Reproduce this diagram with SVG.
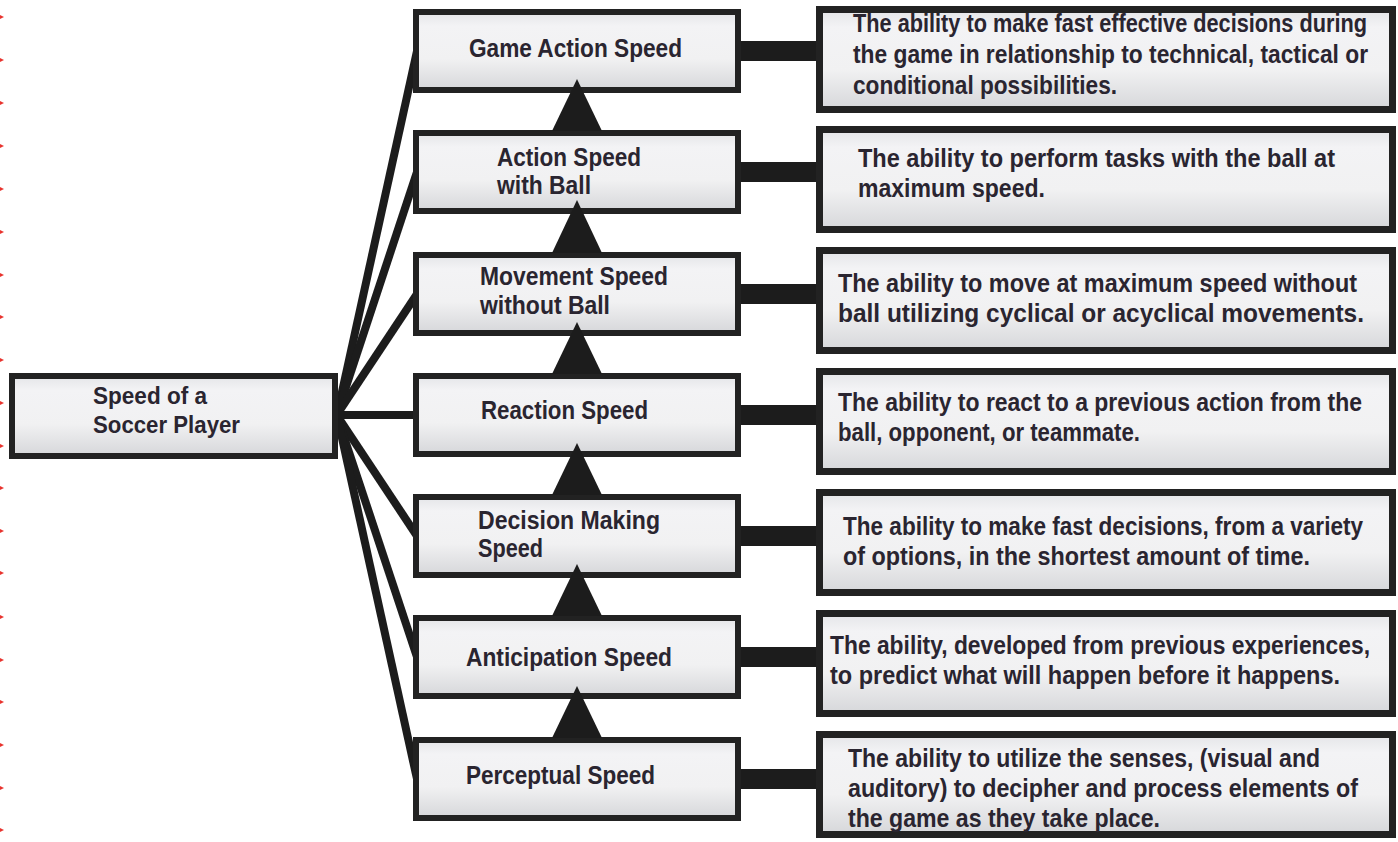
<svg xmlns="http://www.w3.org/2000/svg" width="1398" height="842" viewBox="0 0 1398 842">
<defs>
<linearGradient id="g" x1="0" y1="0" x2="0" y2="1">
<stop offset="0" stop-color="#e4e5e8"/>
<stop offset="0.18" stop-color="#f3f3f5"/>
<stop offset="0.6" stop-color="#f1f1f2"/>
<stop offset="1" stop-color="#d6d7da"/>
</linearGradient>
<style>
.box{fill:url(#g);stroke:#222;stroke-width:6}
.dbox{fill:url(#g);stroke:#222;stroke-width:7}
.t{font-family:"Liberation Sans",Arial,sans-serif;font-weight:bold;font-size:26px;fill:#2a2530}
.tl{font-family:"Liberation Sans",Arial,sans-serif;font-weight:bold;font-size:24px;fill:#2a2530}
.fan{stroke:#1c1c1c;stroke-width:8;fill:none}
.bar{fill:#1c1c1c}
.tri{fill:#1c1c1c}
.dot{fill:#e8342f}
</style>
</defs>
<rect width="1398" height="842" fill="#ffffff"/>
<g id="marks">
<polygon class="dot" points="0,15 4,17 0,19"/><polygon class="dot" points="0,58 4,60 0,62"/><polygon class="dot" points="0,101 4,103 0,105"/><polygon class="dot" points="0,144 4,146 0,148"/><polygon class="dot" points="0,187 4,189 0,191"/><polygon class="dot" points="0,230 4,232 0,234"/><polygon class="dot" points="0,273 4,275 0,277"/><polygon class="dot" points="0,315 4,317 0,319"/><polygon class="dot" points="0,358 4,360 0,362"/><polygon class="dot" points="0,401 4,403 0,405"/><polygon class="dot" points="0,444 4,446 0,448"/><polygon class="dot" points="0,486 4,488 0,490"/><polygon class="dot" points="0,529 4,531 0,533"/><polygon class="dot" points="0,571 4,573 0,575"/><polygon class="dot" points="0,615 4,617 0,619"/><polygon class="dot" points="0,658 4,660 0,662"/><polygon class="dot" points="0,700 4,702 0,704"/><polygon class="dot" points="0,743 4,745 0,747"/><polygon class="dot" points="0,786 4,788 0,790"/><polygon class="dot" points="0,828 4,830 0,832"/>
</g>
<g id="connectors">
<line class="fan" x1="338" y1="410" x2="417" y2="51"/>
<line class="fan" x1="338" y1="411" x2="417" y2="172"/>
<line class="fan" x1="338" y1="413" x2="417" y2="294"/>
<line class="fan" x1="338" y1="415" x2="417" y2="415"/>
<line class="fan" x1="338" y1="417" x2="417" y2="536"/>
<line class="fan" x1="338" y1="419" x2="417" y2="657"/>
<line class="fan" x1="338" y1="420" x2="417" y2="779"/>
<rect class="bar" x="740" y="41" width="78" height="20"/>
<rect class="bar" x="740" y="162" width="78" height="20"/>
<rect class="bar" x="740" y="284" width="78" height="20"/>
<rect class="bar" x="740" y="405" width="78" height="20"/>
<rect class="bar" x="740" y="526" width="78" height="20"/>
<rect class="bar" x="740" y="647" width="78" height="20"/>
<rect class="bar" x="740" y="769" width="78" height="20"/>
</g>
<g id="n-root">
<rect class="box" x="12" y="376" width="323" height="80"/>
<text class="tl" x="93" y="404" textLength="114" lengthAdjust="spacingAndGlyphs">Speed of a</text>
<text class="tl" x="93" y="433" textLength="147" lengthAdjust="spacingAndGlyphs">Soccer Player</text>
</g>
<g id="n-game">
<rect class="box" x="416" y="12" width="322" height="78"/>
<text class="t" x="469" y="57" textLength="213" lengthAdjust="spacingAndGlyphs">Game Action Speed</text>
</g>
<g id="n-ball">
<rect class="box" x="416" y="133" width="322" height="78"/>
<text class="t" x="497" y="166" textLength="144" lengthAdjust="spacingAndGlyphs">Action Speed</text>
<text class="t" x="497" y="194" textLength="94" lengthAdjust="spacingAndGlyphs">with Ball</text>
</g>
<g id="n-move">
<rect class="box" x="416" y="255" width="322" height="78"/>
<text class="t" x="480" y="285" textLength="188" lengthAdjust="spacingAndGlyphs">Movement Speed</text>
<text class="t" x="480" y="314" textLength="130" lengthAdjust="spacingAndGlyphs">without Ball</text>
</g>
<g id="n-react">
<rect class="box" x="416" y="376" width="322" height="78"/>
<text class="t" x="481" y="419" textLength="167" lengthAdjust="spacingAndGlyphs">Reaction Speed</text>
</g>
<g id="n-decide">
<rect class="box" x="416" y="497" width="322" height="78"/>
<text class="t" x="478" y="529" textLength="182" lengthAdjust="spacingAndGlyphs">Decision Making</text>
<text class="t" x="478" y="557" textLength="65" lengthAdjust="spacingAndGlyphs">Speed</text>
</g>
<g id="n-antic">
<rect class="box" x="416" y="618" width="322" height="78"/>
<text class="t" x="466" y="666" textLength="206" lengthAdjust="spacingAndGlyphs">Anticipation Speed</text>
</g>
<g id="n-percep">
<rect class="box" x="416" y="740" width="322" height="78"/>
<text class="t" x="466" y="784" textLength="189" lengthAdjust="spacingAndGlyphs">Perceptual Speed</text>
</g>
<g id="arrows">
<polygon class="tri" points="577,79 602,131 552,131"/>
<polygon class="tri" points="577,200 602,253 552,253"/>
<polygon class="tri" points="577,322 602,374 552,374"/>
<polygon class="tri" points="577,443 602,495 552,495"/>
<polygon class="tri" points="577,564 602,616 552,616"/>
<polygon class="tri" points="577,686 602,738 552,738"/>
</g>
<g id="d-game">
<rect class="dbox" x="819.5" y="9.5" width="573" height="100"/>
<text class="t" transform="translate(853 32) scale(0.72 1)" textLength="713.9" lengthAdjust="spacingAndGlyphs">The ability to make fast effective decisions during</text>
<text class="t" transform="translate(853 63) scale(0.72 1)" textLength="715.3" lengthAdjust="spacingAndGlyphs">the game in relationship to technical, tactical or</text>
<text class="t" transform="translate(853 94) scale(0.72 1)" textLength="366.7" lengthAdjust="spacingAndGlyphs">conditional possibilities.</text>
</g>
<g id="d-ball">
<rect class="dbox" x="819.5" y="129.5" width="573" height="100"/>
<text class="t" transform="translate(858 167) scale(0.72 1)" textLength="662.5" lengthAdjust="spacingAndGlyphs">The ability to perform tasks with the ball at</text>
<text class="t" transform="translate(858 197) scale(0.72 1)" textLength="259.7" lengthAdjust="spacingAndGlyphs">maximum speed.</text>
</g>
<g id="d-move">
<rect class="dbox" x="819.5" y="250.5" width="573" height="100"/>
<text class="t" transform="translate(838 292) scale(0.72 1)" textLength="720.8" lengthAdjust="spacingAndGlyphs">The ability to move at maximum speed without</text>
<text class="t" transform="translate(838 322) scale(0.72 1)" textLength="730.6" lengthAdjust="spacingAndGlyphs">ball utilizing cyclical or acyclical movements.</text>
</g>
<g id="d-react">
<rect class="dbox" x="819.5" y="371.5" width="573" height="100"/>
<text class="t" transform="translate(838 411) scale(0.72 1)" textLength="727.8" lengthAdjust="spacingAndGlyphs">The ability to react to a previous action from the</text>
<text class="t" transform="translate(838 441) scale(0.72 1)" textLength="419.4" lengthAdjust="spacingAndGlyphs">ball, opponent, or teammate.</text>
</g>
<g id="d-decide">
<rect class="dbox" x="819.5" y="492.5" width="573" height="100"/>
<text class="t" transform="translate(843 535) scale(0.72 1)" textLength="722.2" lengthAdjust="spacingAndGlyphs">The ability to make fast decisions, from a variety</text>
<text class="t" transform="translate(843 565) scale(0.72 1)" textLength="648.6" lengthAdjust="spacingAndGlyphs">of options, in the shortest amount of time.</text>
</g>
<g id="d-antic">
<rect class="dbox" x="819.5" y="613.5" width="573" height="100"/>
<text class="t" transform="translate(830 654) scale(0.72 1)" textLength="750" lengthAdjust="spacingAndGlyphs">The ability, developed from previous experiences,</text>
<text class="t" transform="translate(830 684) scale(0.72 1)" textLength="708.3" lengthAdjust="spacingAndGlyphs">to predict what will happen before it happens.</text>
</g>
<g id="d-percep">
<rect class="dbox" x="819.5" y="734.5" width="573" height="100"/>
<text class="t" transform="translate(848 767) scale(0.72 1)" textLength="655.6" lengthAdjust="spacingAndGlyphs">The ability to utilize the senses, (visual and</text>
<text class="t" transform="translate(848 797) scale(0.72 1)" textLength="708.3" lengthAdjust="spacingAndGlyphs">auditory) to decipher and process elements of</text>
<text class="t" transform="translate(848 827) scale(0.72 1)" textLength="433.3" lengthAdjust="spacingAndGlyphs">the game as they take place.</text>
</g>
</svg>
